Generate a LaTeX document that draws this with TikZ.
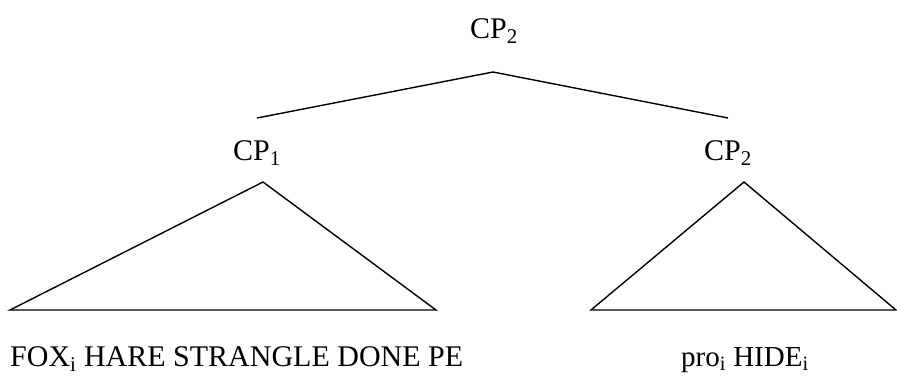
\documentclass[tikz,border=0pt]{standalone}
\usepackage{fontspec}
\setmainfont{Liberation Serif}
\begin{document}
\begin{tikzpicture}[x=1pt,y=-1pt,
  lab/.style={anchor=base,inner sep=0pt,font=\fontsize{30}{36}\selectfont},
  labs/.style={anchor=base,inner sep=0pt,font=\fontsize{29}{34}\selectfont},
  edge/.style={line width=1.4pt,line join=miter}]
\useasboundingbox (0,0) rectangle (897,375);
\node[lab] (top) at (494,38) {CP\textsubscript{2}};
\coordinate (topapex) at (493,72);
\coordinate (l1) at (257,118);
\coordinate (r1) at (728,118);
\draw[edge] (l1) -- (topapex) -- (r1);
\node[lab] (cp1) at (257,160) {CP\textsubscript{1}};
\node[lab] (cp2) at (728,160) {CP\textsubscript{2}};
\coordinate (lapex) at (263,182);
\coordinate (lbl) at (10,310);
\coordinate (lbr) at (436,310);
\draw[edge] (lbl) -- (lapex) -- (lbr) -- cycle;
\coordinate (rapex) at (744,182);
\coordinate (rbl) at (591,310);
\coordinate (rbr) at (896,310);
\draw[edge] (rbl) -- (rapex) -- (rbr) -- cycle;
\node[lab,anchor=base west] (fox) at (10,366) {FOX\textsubscript{i} HARE STRANGLE DONE PE};
\node[labs,anchor=base west] (pro) at (681,366) {pro\textsubscript{i} HIDE\textsubscript{i}};
\end{tikzpicture}
\end{document}
